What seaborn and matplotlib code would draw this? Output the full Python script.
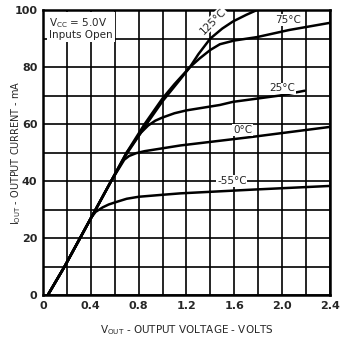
import matplotlib
matplotlib.use("Agg")
import matplotlib.pyplot as plt
import seaborn as sns
import pandas as pd

# Data
v_m55 = [0.04, 0.18, 0.31, 0.40, 0.44, 0.50, 0.55, 0.60, 0.70, 0.80, 1.00, 1.15, 1.75, 2.40]
i_m55 = [0, 10, 20, 27, 29.2, 30.8, 31.8, 32.5, 33.8, 34.5, 35.2, 35.7, 37, 38.3]

v_0 = [0.04, 0.18, 0.31, 0.44, 0.57, 0.68, 0.72, 0.78, 0.85, 1.0, 1.15, 1.75, 2.40]
i_0 = [0, 10, 20, 30, 40, 47.5, 48.8, 49.8, 50.5, 51.5, 52.5, 55.5, 59]

v_25 = [0.04, 0.18, 0.31, 0.44, 0.57, 0.70, 0.82, 0.88, 0.94, 1.0, 1.1, 1.2, 1.48, 1.59, 1.98, 2.19]
i_25 = [0, 10, 20, 30, 40, 50, 57, 59.5, 61.2, 62.3, 63.8, 64.8, 66.7, 67.8, 70, 71.7]

v_75 = [0.04, 0.18, 0.31, 0.44, 0.57, 0.70, 0.85, 1.0, 1.1, 1.23, 1.31, 1.40, 1.48, 1.60, 1.79, 2.06, 2.40]
i_75 = [0, 10, 20, 30, 40, 50, 60, 69, 74, 80, 83, 86, 88, 89.3, 90.5, 93, 95.5]

v_125 = [0.04, 0.18, 0.31, 0.44, 0.57, 0.70, 0.85, 1.0, 1.145, 1.23, 1.30, 1.40, 1.50, 1.59, 1.70, 1.79]
i_125 = [0, 10, 20, 30, 40, 49.5, 59, 68, 75.5, 80, 84.5, 90, 93.5, 96, 98.3, 100]

curve_labels = ["-55°C", "0°C", "25°C", "75°C", "125°C"]
label_v = [1.58, 1.67, 2.00, 2.05, 1.42]
label_i = [40, 58, 72.5, 96.5, 96]
label_rot = [0, 0, 0, 0, 45]

x_ticks = [0, 0.4, 0.8, 1.2, 1.6, 2.0, 2.4]
x_ticklabels = ["0", "0.4", "0.8", "1.2", "1.6", "2.0", "2.4"]
y_ticks = [0, 20, 40, 60, 80, 100]

sns.set_theme(style="white")
plt.rcParams['font.family'] = ['DejaVu Sans']

fig = plt.figure(figsize=(3.40, 3.46), dpi=100)
ax = fig.add_axes([0.1265, 0.147, 0.8435, 0.824])

curves = [(v_m55, i_m55), (v_0, i_0), (v_25, i_25), (v_75, i_75), (v_125, i_125)]
for (vv, ii), lab in zip(curves, curve_labels):
    df = pd.DataFrame({"v": vv, "i": ii})
    sns.lineplot(data=df, x="v", y="i", ax=ax, color="black", lw=1.8, sort=False,
                 estimator=None, zorder=3)

ax.set_xlim(0, 2.4)
ax.set_ylim(0, 100)
ax.set_xticks([k * 0.2 for k in range(13)], minor=True)
ax.set_yticks(list(range(0, 101, 10)), minor=True)
ax.set_xticks(x_ticks)
ax.set_xticklabels(x_ticklabels)
ax.set_yticks(y_ticks)
ax.grid(True, which="both", color="black", lw=1.2)
ax.tick_params(axis="both", which="both", length=0, labelsize=8, pad=4)
for lbl in ax.get_xticklabels() + ax.get_yticklabels():
    lbl.set_fontweight("bold")
for s in ax.spines.values():
    s.set_color("black")
    s.set_linewidth(1.8)

for lab, lv, li, rot in zip(curve_labels, label_v, label_i, label_rot):
    ax.text(lv, li, lab, ha="center", va="center", rotation=rot, fontsize=7.5,
            zorder=4, bbox=dict(facecolor="white", edgecolor="none", pad=0.5))

ax.text(0.05, 98, "V$_{\\mathregular{CC}}$ = 5.0V\nInputs Open", ha="left", va="top",
        fontsize=7.5, linespacing=1.1, zorder=4,
        bbox=dict(facecolor="white", edgecolor="none", pad=1.5))

ax.set_xlabel("V$_{\\mathregular{OUT}}$ - OUTPUT VOLTAGE - VOLTS", fontsize=7.5, labelpad=9)
ax.set_ylabel("I$_{\\mathregular{OUT}}$ - OUTPUT CURRENT - mA", fontsize=7)
ax.yaxis.set_label_coords(-0.07, 0.5)

fig.savefig("out.png", dpi=100, facecolor="white")
